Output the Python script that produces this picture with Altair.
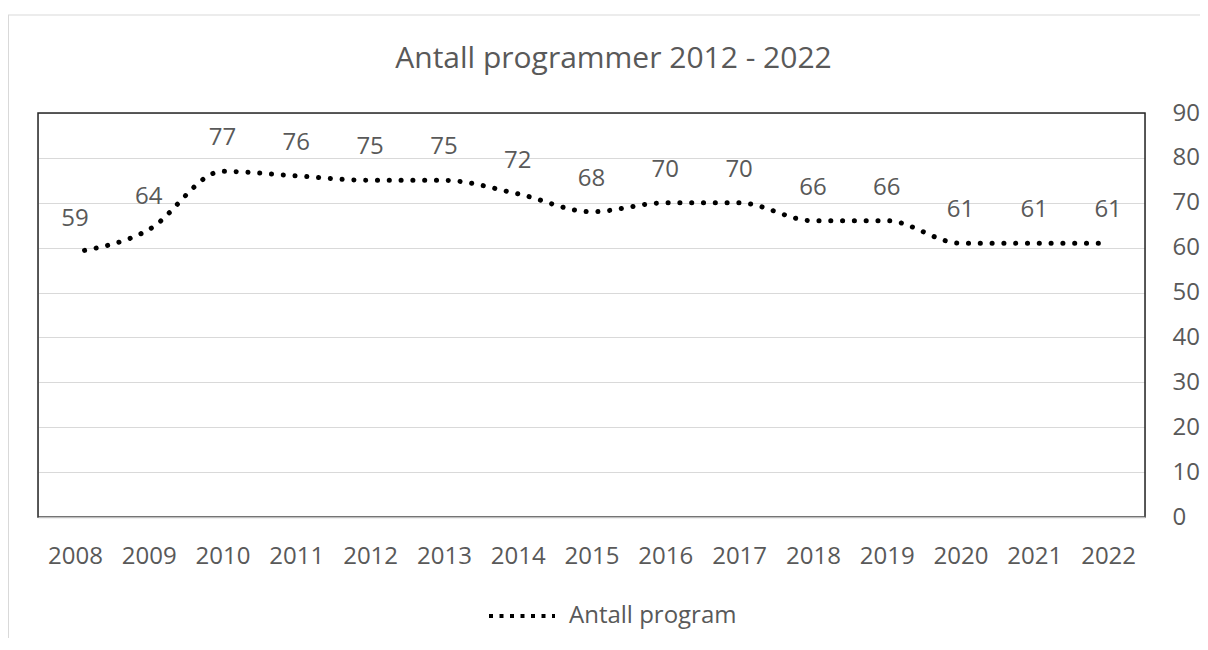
import altair as alt
import pandas as pd

years = ["2008", "2009", "2010", "2011", "2012", "2013", "2014", "2015",
         "2016", "2017", "2018", "2019", "2020", "2021", "2022"]
values = [59, 64, 77, 76, 75, 75, 72, 68, 70, 70, 66, 66, 61, 61, 61]
series_name = "Antall program"
y_ticks = [0, 10, 20, 30, 40, 50, 60, 70, 80, 90]
chart_title = "Antall programmer 2012 - 2022"

df = pd.DataFrame({"year": years, "value": values, "serie": [series_name] * len(years)})

TEXT = "#595959"
FONT = "Open Sans"

x_enc = alt.X("year:O", sort=years, title=None,
              axis=alt.Axis(labelAngle=0, labelFontSize=24, labelColor=TEXT, labelFont=FONT,
                            ticks=False, tickSize=0, labelPadding=27, zindex=1,
                            domainColor="#bfbfbf", domainWidth=1.5, grid=False))
y_enc = alt.Y("value:Q", title=None,
              scale=alt.Scale(domain=[0, 90], nice=False, zero=True),
              axis=alt.Axis(orient="right", values=y_ticks, labelFontSize=24, labelColor=TEXT,
                            labelFont=FONT, ticks=False, tickSize=0, labelPadding=27,
                            domain=False, grid=True, gridColor="#d9d9d9", gridWidth=1))

line = alt.Chart(df).mark_line(
    interpolate="monotone", strokeWidth=5, strokeCap="round",
    strokeDash=[0.1, 11.7], strokeDashOffset=2
).encode(
    x=x_enc, y=y_enc,
    color=alt.Color("serie:N", scale=alt.Scale(domain=[series_name], range=["#000000"]),
                    legend=alt.Legend(title=None, orient="none", legendX=449, legendY=468,
                                      symbolType="stroke", symbolSize=4356, symbolStrokeWidth=4,
                                      symbolDash=[4, 6.5], labelFontSize=24, labelColor=TEXT,
                                      labelFont=FONT, labelOffset=12, labelLimit=400, padding=0))
)

labels = alt.Chart(df).mark_text(
    dy=-26, baseline="alphabetic", align="center", fontSize=24, color=TEXT, font=FONT
).encode(x=x_enc, y=y_enc, text=alt.Text("value:Q"))

frame_df = pd.DataFrame({"k": [0]})
frame_left = alt.Chart(frame_df).mark_rule(color="#d9d9d9", strokeWidth=1).encode(
    x=alt.value(-29.5), y=alt.value(-98), y2=alt.value(530))
frame_top = alt.Chart(frame_df).mark_rule(color="#d9d9d9", strokeWidth=1).encode(
    x=alt.value(-30), x2=alt.value(1170), y=alt.value(-98))
plot_border = alt.Chart(frame_df).mark_rect(
    fillOpacity=0, stroke="#262626", strokeWidth=1.5
).encode(x=alt.value(0), x2=alt.value(1107), y=alt.value(0), y2=alt.value(404))

chart = alt.layer(frame_left, frame_top, plot_border, line, labels).properties(
    width=1107, height=404,
    title=alt.TitleParams(chart_title, fontSize=30, color=TEXT, font=FONT, fontWeight="normal",
                          anchor="middle", frame="group", dx=22, baseline="alphabetic", offset=-83),
    autosize=alt.AutoSizeParams(type="none"),
    padding={"left": 30, "top": 105, "right": 55, "bottom": 121},
).configure_view(stroke=None).configure(font=FONT)

chart.save("out.html", embed_options={"renderer": "svg", "actions": False})
